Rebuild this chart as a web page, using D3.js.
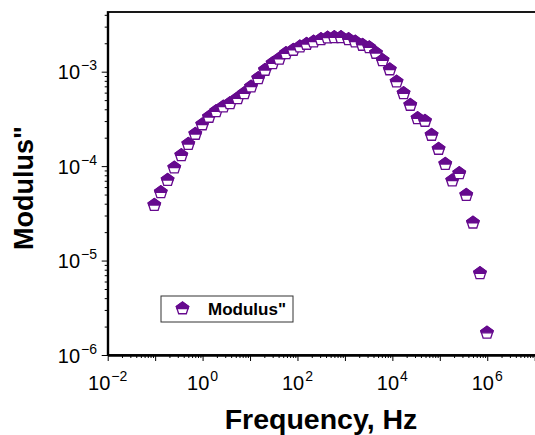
<!DOCTYPE html>
<html>
<head>
<meta charset="utf-8">
<script src="https://cdn.jsdelivr.net/npm/d3@7"></script>
<style>
  body { margin: 0; background: #fff; }
  svg { display: block; font-family: "Liberation Sans", Arial, sans-serif; }
</style>
</head>
<body>
<svg id="chart" width="535" height="435"></svg>
<script>
// data
const frequency = [0.096, 0.1315, 0.183, 0.253, 0.356, 0.5, 0.702, 0.985, 1.364, 1.925,
    2.73, 3.78, 5.47, 7.56, 10.5, 14.9, 20.7, 29.9, 41.3, 57.2,
    81.5, 112.9, 155.5, 218.4, 312.8, 430.9, 596.6, 825.5, 1194, 1652,
    2355, 3261, 4512, 6217, 8814, 12260, 17220, 23840, 33970, 48660,
    67000, 94130, 130300, 183000, 257000, 360900, 499500, 702000, 985600];
const modulus = [3.87e-5, 5.28e-5, 7.12e-5, 9.62e-5, 1.302e-4, 1.714e-4, 2.188e-4, 2.759e-4, 3.312e-4, 3.806e-4,
    4.258e-4, 4.627e-4, 5.226e-4, 5.905e-4, 6.937e-4, 8.513e-4, 1.042e-3, 1.227e-3, 1.370e-3, 1.566e-3,
    1.698e-3, 1.840e-3, 1.965e-3, 2.078e-3, 2.203e-3, 2.291e-3, 2.313e-3, 2.313e-3, 2.203e-3, 2.078e-3,
    1.918e-3, 1.805e-3, 1.578e-3, 1.320e-3, 1.055e-3, 7.836e-4, 5.905e-4, 4.438e-4, 3.209e-4, 3.004e-4,
    2.135e-4, 1.518e-4, 1.052e-4, 7.04e-5, 8.39e-5, 4.94e-5, 2.515e-5, 7.32e-6, 1.718e-6];

const xMajor = [-2, -1, 0, 1, 2, 3, 4, 5, 6, 7];      // decade exponents
const xLabelled = [-2, 0, 2, 4, 6];
const yMajor = [-6, -5, -4, -3];
const yLabelled = [-6, -5, -4, -3];

const seriesName = 'Modulus"';
const purple = '#660a8e';

const svg = d3.select('#chart');
const plotLeft = 107.7, plotRight = 534.7, plotTop = 12, plotBottom = 355;

const x = d3.scaleLog().domain([1e-2, 1e7]).range([plotLeft, plotRight]);
const y = d3.scaleLog().domain([1e-6, Math.pow(10, -2.368)]).range([plotBottom, plotTop]);

// minor tick values: 2..9 in each decade inside the domain
function minorTicks(scale) {
    const [a, b] = scale.domain();
    const out = [];
    for (let e = Math.floor(Math.log10(a)); e <= Math.ceil(Math.log10(b)); e++) {
        for (let m = 2; m <= 9; m++) {
            const v = m * Math.pow(10, e);
            if (v > a && v < b) out.push(v);
        }
    }
    return out;
}

// frame (top line; right edge falls just outside the picture)
svg.append('rect')
    .attr('x', plotLeft).attr('y', plotTop)
    .attr('width', plotRight - plotLeft + 2).attr('height', plotBottom - plotTop)
    .attr('fill', 'none').attr('stroke', '#000').attr('stroke-width', 1.8);

// x axis
const gx = svg.append('g').attr('transform', `translate(0,${plotBottom})`);
gx.call(d3.axisBottom(x).tickValues(xMajor.map(e => Math.pow(10, e))).tickFormat('').tickSize(6).tickSizeOuter(0));
gx.append('g').call(d3.axisBottom(x).tickValues(minorTicks(x)).tickFormat('').tickSize(3).tickSizeOuter(0));
gx.selectAll('path.domain').attr('stroke', '#000').attr('stroke-width', 1.8);
gx.selectAll('.tick line').attr('stroke', '#000').attr('stroke-width', 1);

// y axis
const gy = svg.append('g').attr('transform', `translate(${plotLeft},0)`);
gy.call(d3.axisLeft(y).tickValues(yMajor.map(e => Math.pow(10, e))).tickFormat('').tickSize(6).tickSizeOuter(0));
gy.append('g').call(d3.axisLeft(y).tickValues(minorTicks(y)).tickFormat('').tickSize(3).tickSizeOuter(0));
gy.selectAll('path.domain').attr('stroke', '#000').attr('stroke-width', 1.8);
gy.selectAll('.tick line').attr('stroke', '#000').attr('stroke-width', 1);

// tick labels as 10 with superscript exponent
function powerLabel(g, e) {
    g.append('tspan').text('10');
    g.append('tspan').attr('dx', 1).attr('dy', -9).attr('font-size', 14).text(e < 0 ? '\u2212' + Math.abs(e) : e);
}

xLabelled.forEach(e => {
    const t = svg.append('text')
        .attr('x', x(Math.pow(10, e)))
        .attr('y', 390)
        .attr('text-anchor', 'middle')
        .attr('font-size', 20)
        .attr('fill', '#000');
    powerLabel(t, e);
});

yLabelled.forEach(e => {
    const t = svg.append('text')
        .attr('x', 97)
        .attr('y', y(Math.pow(10, e)) + 7.5)
        .attr('text-anchor', 'end')
        .attr('font-size', 20)
        .attr('fill', '#000');
    powerLabel(t, e);
});

// axis titles
svg.append('text')
    .attr('x', 321).attr('y', 429)
    .attr('text-anchor', 'middle')
    .attr('font-size', 28.5).attr('font-weight', 'bold')
    .text('Frequency, Hz');

svg.append('text')
    .attr('transform', 'translate(33,188) rotate(-90)')
    .attr('text-anchor', 'middle')
    .attr('font-size', 27).attr('font-weight', 'bold')
    .text('Modulus"');

// half filled pentagon marker
const r = 6.5;
const pent = [-90, -18, 54, 126, 198].map(a => [r * Math.cos(a * Math.PI / 180), r * Math.sin(a * Math.PI / 180)]);
const upper = [pent[0], pent[1], [0.851 * r, 0], [-0.851 * r, 0], pent[4]];
const pentPath = 'M' + pent.map(p => p.join(',')).join('L') + 'Z';
const upperPath = 'M' + upper.map(p => p.join(',')).join('L') + 'Z';

function drawMarker(g) {
    g.append('path').attr('d', pentPath).attr('fill', '#fff').attr('stroke', purple).attr('stroke-width', 1.3);
    g.append('path').attr('d', upperPath).attr('fill', purple).attr('stroke', purple).attr('stroke-width', 1.3);
}

const data = frequency.map((f, i) => ({ f, m: modulus[i] }));

svg.append('g').selectAll('g')
    .data(data)
    .enter()
    .append('g')
    .attr('transform', d => `translate(${x(d.f)},${y(d.m)})`)
    .each(function() { drawMarker(d3.select(this)); });

// legend
svg.append('rect')
    .attr('x', 161).attr('y', 296)
    .attr('width', 132).attr('height', 26)
    .attr('fill', '#fff').attr('stroke', '#333').attr('stroke-width', 1);
drawMarker(svg.append('g').attr('transform', 'translate(182.5,308.5)'));
svg.append('text')
    .attr('x', 208).attr('y', 314.5)
    .attr('font-size', 17).attr('font-weight', 'bold')
    .text(seriesName);
</script>
</body>
</html>
